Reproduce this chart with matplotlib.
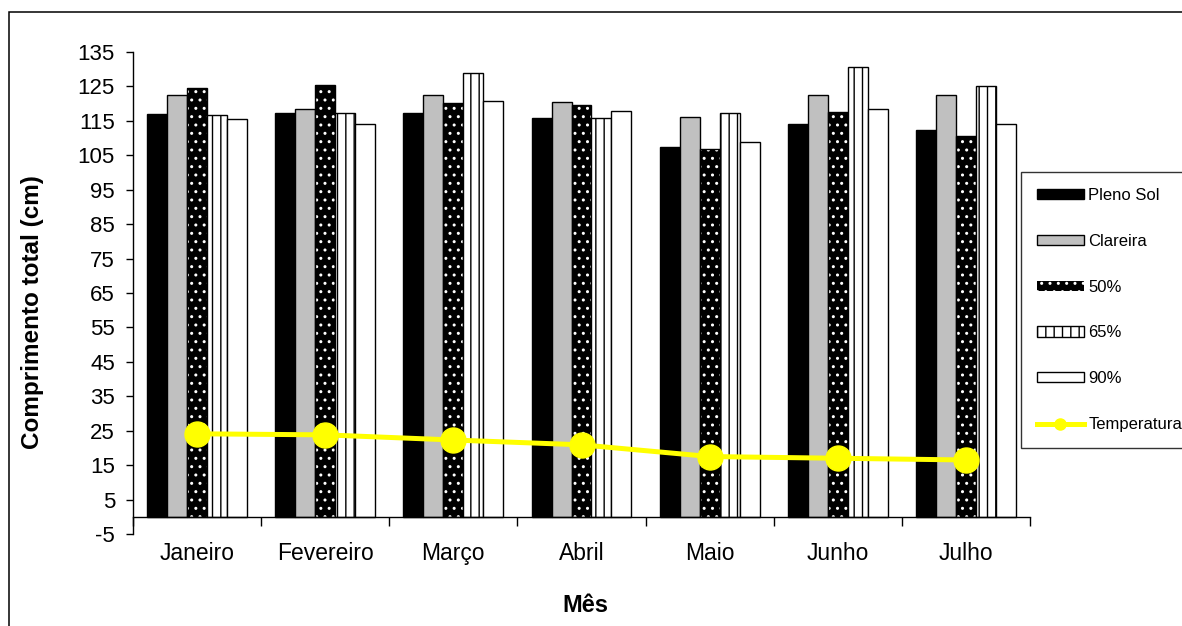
# Comprimento total por mês e tratamento de sombreamento, com temperatura
import numpy as np
import matplotlib.pyplot as plt
from matplotlib.patches import Patch, Rectangle
from matplotlib.lines import Line2D

plt.rcParams['font.family'] = ['Liberation Sans', 'DejaVu Sans']
plt.rcParams['hatch.linewidth'] = 1.0
plt.rcParams['axes.unicode_minus'] = False

# dados
meses = ['Janeiro', 'Fevereiro', 'Março', 'Abril', 'Maio', 'Junho', 'Julho']
pleno_sol = [116.9, 117.3, 117.4, 115.9, 107.4, 114.1, 112.2]
clareira = [122.5, 118.3, 122.6, 120.5, 116.2, 122.6, 122.6]
sombra_50 = [124.6, 125.3, 120.1, 119.5, 106.9, 117.5, 110.6]
sombra_65 = [116.7, 117.4, 128.8, 115.7, 117.4, 130.5, 125.2]
sombra_90 = [115.6, 114.0, 120.9, 117.8, 108.9, 118.3, 114.0]
temperatura = [24.1, 23.8, 22.3, 20.9, 17.5, 17.0, 16.5]

x = np.arange(len(meses))
w = 0.156

fig = plt.figure(figsize=(11.82, 6.26), dpi=100)
ax = fig.add_axes([133 / 1182, 1 - 534 / 626, (1030 - 133) / 1182, (534 - 52) / 626])

# borda da área do gráfico
fig.patches.append(Rectangle((9 / 1182, -0.1), 1.2, 1 - 12 / 626 + 0.1,
                             transform=fig.transFigure, fill=False,
                             edgecolor='black', linewidth=1.1, zorder=0))

lw = 1.0
ax.bar(x - 2 * w, pleno_sol, w, color='black', edgecolor='black', linewidth=lw)
ax.bar(x - w, clareira, w, color='#c0c0c0', edgecolor='black', linewidth=lw)
# 50%: preto com pontos brancos
ax.bar(x, sombra_50, w, color='black', edgecolor='white', linewidth=0, hatch='..')
ax.bar(x, sombra_50, w, fill=False, edgecolor='black', linewidth=lw)
ax.bar(x + w, sombra_65, w, color='white', edgecolor='black', linewidth=lw, hatch='||')
ax.bar(x + 2 * w, sombra_90, w, color='white', edgecolor='black', linewidth=lw)

ax.plot(x, temperatura, color='#ffff00', linewidth=3.6, marker='o',
        markersize=18, zorder=5)

ax.set_xlim(-0.5, len(meses) - 0.5)
ax.set_ylim(-5, 135)
ax.set_yticks(np.arange(-5, 136, 10))

ax.spines['top'].set_visible(False)
ax.spines['right'].set_visible(False)
ax.spines['bottom'].set_position(('data', 0))
ax.spines['left'].set_linewidth(1.0)
ax.spines['bottom'].set_linewidth(1.0)

ax.set_xticks(np.arange(-0.5, len(meses), 1.0))
ax.set_xticklabels([])
ax.set_xticks(x, minor=True)
ax.set_xticklabels(meses, minor=True, fontsize=16.5)
ax.tick_params(axis='x', which='major', direction='out', length=6.5, width=1)
ax.tick_params(axis='x', which='minor', length=0, pad=18)
ax.tick_params(axis='y', direction='out', length=5, width=1, pad=8, labelsize=16)

ax.set_ylabel('Comprimento total (cm)', fontsize=17.5, fontweight='bold')
ax.yaxis.set_label_coords(-0.099, 0.46)
ax.set_xlabel('Mês', fontsize=17, fontweight='bold')
ax.xaxis.set_label_coords(0.504, -0.125)

handles = [
    Patch(facecolor='black', edgecolor='black', linewidth=lw),
    Patch(facecolor='#c0c0c0', edgecolor='black', linewidth=lw),
    Patch(facecolor='black', edgecolor='white', linewidth=0, hatch='..'),
    Patch(facecolor='white', edgecolor='black', linewidth=lw, hatch='||'),
    Patch(facecolor='white', edgecolor='black', linewidth=lw),
    Line2D([], [], color='#ffff00', linewidth=3.6, marker='o', markersize=8),
]
labels = ['Pleno Sol', 'Clareira', '50%', '65%', '90%', 'Temperatura']
leg = fig.legend(handles, labels, loc='upper left', mode='expand',
                 bbox_to_anchor=(1021 / 1182, 1 - 172 / 626, 0.2, 0),
                 bbox_transform=fig.transFigure, borderaxespad=0,
                 fontsize=12, frameon=True, fancybox=False,
                 handlelength=2.8, handleheight=0.56, handletextpad=0.3,
                 labelspacing=1.85, borderpad=0.95)
leg.get_frame().set_edgecolor('black')
leg.get_frame().set_linewidth(1.0)

fig.savefig('out.png', dpi=100)
